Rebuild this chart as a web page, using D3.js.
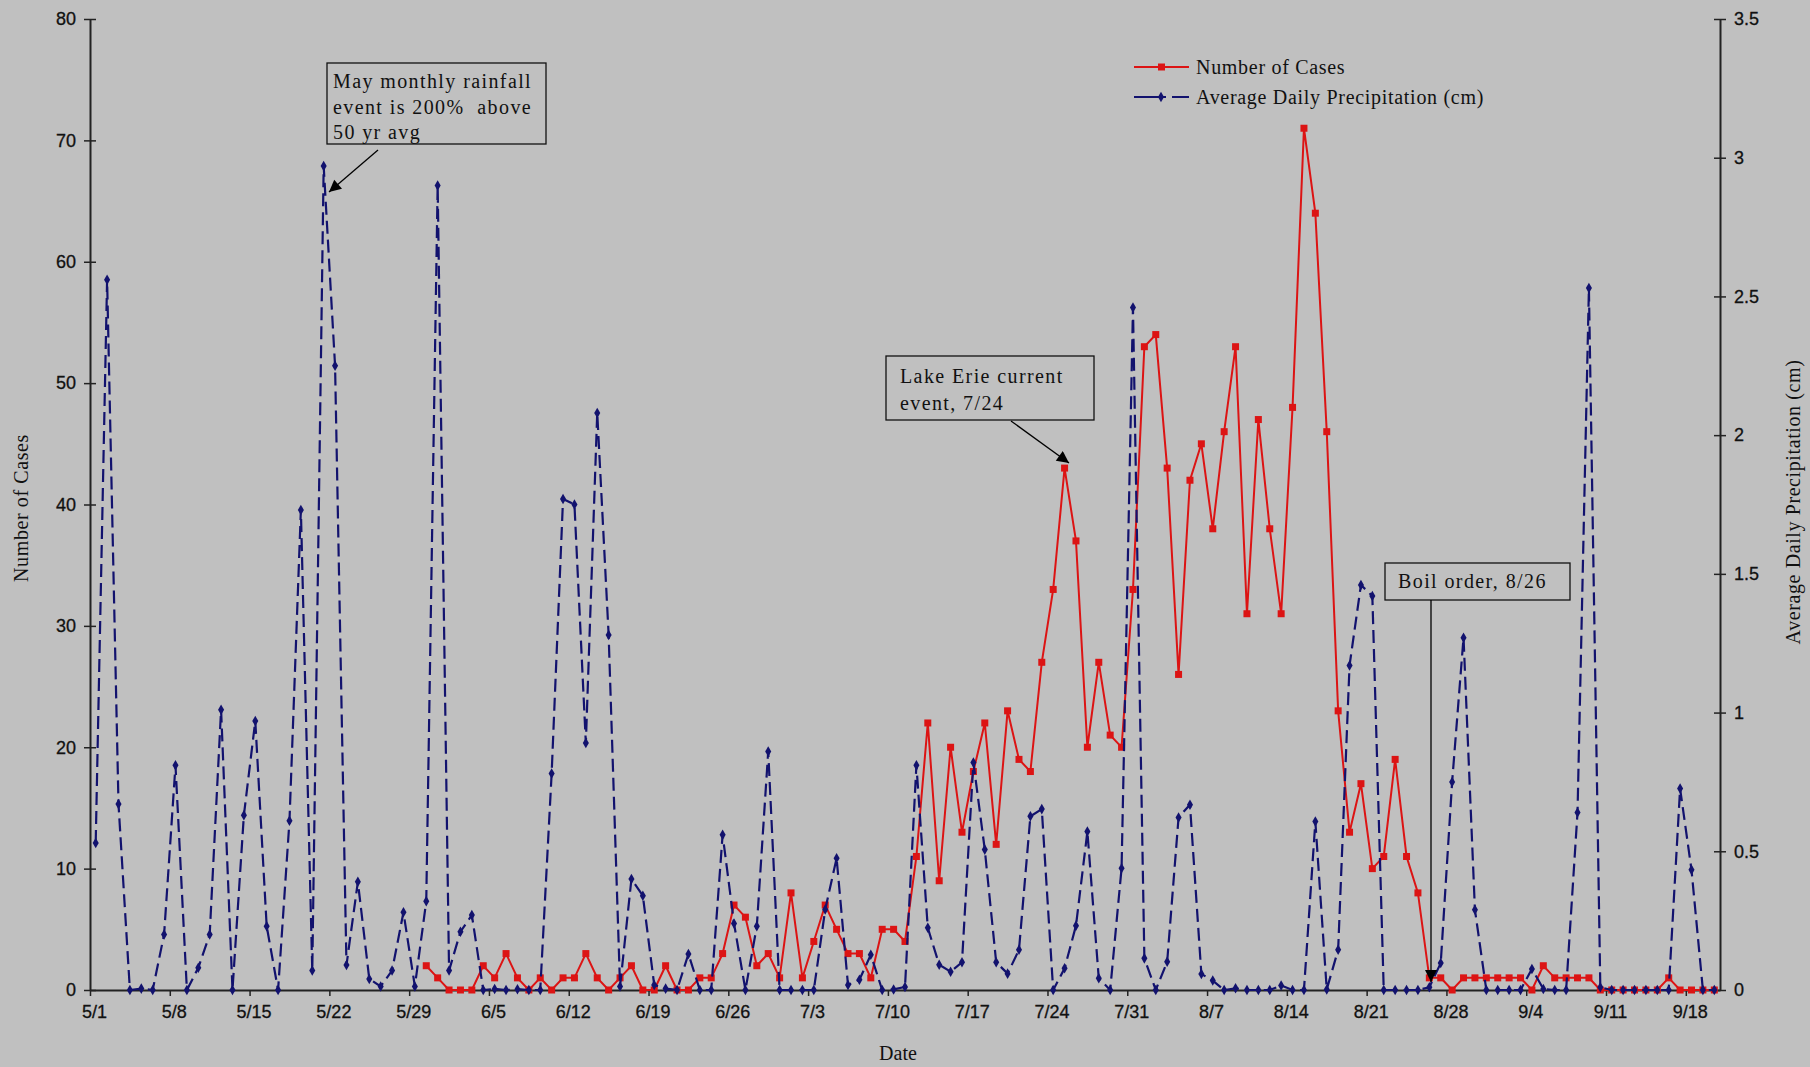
<!DOCTYPE html>
<html>
<head>
<meta charset="utf-8">
<script src="https://cdn.jsdelivr.net/npm/d3@7"></script>
<style>
  html, body { margin: 0; padding: 0; background: #c0c0c0; }
  svg { display: block; }
  .tick text { font-family: "Liberation Sans", Arial, sans-serif; font-size: 18px; fill: #111; }
  .serif { font-family: "Liberation Serif", "Times New Roman", serif; fill: #111; }
</style>
</head>
<body>
<svg id="chart" width="1810" height="1067"></svg>
<script>
// Daily series, 5/1 through 9/20 (143 days)
const startDate = new Date(2004, 4, 1);
const dayCount = 143;

// Number of cases per day (no reports before 5/30)
const cases = [
  null, null, null, null, null, null, null, null, null, null,
  null, null, null, null, null, null, null, null, null, null,
  null, null, null, null, null, null, null, null, null, 2,
  1, 0, 0, 0, 2, 1, 3, 1, 0, 1,
  0, 1, 1, 3, 1, 0, 1, 2, 0, 0,
  2, 0, 0, 1, 1, 3, 7, 6, 2, 3,
  1, 8, 1, 4, 7, 5, 3, 3, 1, 5,
  5, 4, 11, 22, 9, 20, 13, 18, 22, 12,
  23, 19, 18, 27, 33, 43, 37, 20, 27, 21,
  20, 33, 53, 54, 43, 26, 42, 45, 38, 46,
  53, 31, 47, 38, 31, 48, 71, 64, 46, 23,
  13, 17, 10, 11, 19, 11, 8, 1, 1, 0,
  1, 1, 1, 1, 1, 1, 0, 2, 1, 1,
  1, 1, 0, 0, 0, 0, 0, 0, 1, 0,
  0, 0, 0
];

// Average daily precipitation (cm)
const precip = [
  0.53, 2.56, 0.67, 0, 0.005, 0, 0.20, 0.81, 0, 0.08,
  0.20, 1.01, 0, 0.63, 0.97, 0.23, 0, 0.61, 1.73, 0.07,
  2.97, 2.25, 0.09, 0.39, 0.04, 0.013, 0.07, 0.28, 0.013, 0.32,
  2.90, 0.07, 0.21, 0.27, 0, 0.004, 0, 0.003, 0, 0,
  0.78, 1.77, 1.75, 0.89, 2.08, 1.28, 0.013, 0.40, 0.34, 0.018,
  0.005, 0, 0.13, 0, 0, 0.56, 0.24, 0, 0.23, 0.86,
  0, 0, 0, 0, 0.29, 0.475, 0.018, 0.037, 0.127, 0,
  0.002, 0.011, 0.81, 0.224, 0.091, 0.066, 0.10, 0.82, 0.506, 0.10,
  0.059, 0.145, 0.626, 0.652, 0, 0.078, 0.232, 0.571, 0.042, 0,
  0.439, 2.46, 0.114, 0, 0.102, 0.622, 0.668, 0.058, 0.034, 0,
  0.006, 0, 0, 0, 0.016, 0, 0, 0.607, 0.002, 0.145,
  1.17, 1.46, 1.42, 0, 0, 0, 0, 0.01, 0.097, 0.75,
  1.27, 0.289, 0, 0, 0, 0, 0.076, 0.004, 0, 0,
  0.64, 2.53, 0.01, 0, 0, 0, 0, 0, 0, 0.726,
  0.433, 0, 0
];

const dateTickLabels = ["5/1","5/8","5/15","5/22","5/29","6/5","6/12","6/19","6/26","7/3",
  "7/10","7/17","7/24","7/31","8/7","8/14","8/21","8/28","9/4","9/11","9/18"];
const casesTicks = [0, 10, 20, 30, 40, 50, 60, 70, 80];
const precipTicks = [0, 0.5, 1, 1.5, 2, 2.5, 3, 3.5];

const seriesNames = ["Number of Cases", "Average Daily Precipitation (cm)"];

(function draw() {
  const days = d3.range(dayCount).map(i => d3.timeDay.offset(startDate, i));

  const red = "#dc1414";
  const navy = "#12126e";

  const svg = d3.select("#chart");
  const plotL = 90, plotR = 1720, plotT = 19, plotB = 990;

  // day index -> x; each day occupies one slot, marks sit at slot centres
  const x = d3.scaleLinear().domain([0, days.length]).range([plotL, plotR]);
  const yCases = d3.scaleLinear().domain([0, 80]).range([plotB, plotT]);
  const yPrecip = d3.scaleLinear().domain([0, 3.5]).range([plotB, plotT]);

  // Axes
  const leftAxis = d3.axisLeft(yCases).tickValues(casesTicks).tickSizeInner(6).tickSizeOuter(0).tickPadding(8);
  const gL = svg.append("g").attr("transform", `translate(${plotL},0)`).call(leftAxis);
  gL.selectAll(".tick line").attr("x2", 6).attr("x1", -6);

  const rightAxis = d3.axisRight(yPrecip).tickValues(precipTicks).tickFormat(d3.format("~g"))
    .tickSizeInner(6).tickSizeOuter(0).tickPadding(8);
  const gR = svg.append("g").attr("transform", `translate(${plotR},0)`).call(rightAxis);
  gR.selectAll(".tick line").attr("x1", -6).attr("x2", 6);

  const tickIdx = dateTickLabels.map((_, k) => k * 7);
  const bottomAxis = d3.axisBottom(x).tickValues(tickIdx)
    .tickFormat((d, k) => dateTickLabels[k]).tickSizeInner(6).tickSizeOuter(0).tickPadding(9);
  const gB = svg.append("g").attr("transform", `translate(0,${plotB})`).call(bottomAxis);
  gB.selectAll(".tick text").attr("dx", 4);

  svg.selectAll(".domain").attr("stroke", "#222").attr("stroke-width", 2);
  svg.selectAll(".tick line").attr("stroke", "#222").attr("stroke-width", 1.5);
  svg.selectAll(".tick text").attr("stroke", "#111").attr("stroke-width", 0.3);

  // Axis titles
  svg.append("text").attr("class", "serif")
    .attr("transform", `translate(28,508) rotate(-90)`)
    .attr("text-anchor", "middle").attr("font-size", 20).attr("letter-spacing", 0.6)
    .text("Number of Cases");
  svg.append("text").attr("class", "serif")
    .attr("transform", `translate(1800,502) rotate(-90)`)
    .attr("text-anchor", "middle").attr("font-size", 20).attr("letter-spacing", 0.6)
    .text("Average Daily Precipitation (cm)");
  svg.append("text").attr("class", "serif")
    .attr("x", 898).attr("y", 1060).attr("text-anchor", "middle").attr("font-size", 20)
    .text("Date");

  const cx = i => x(i + 0.5);

  // Cases series
  const casesPts = cases.map((v, i) => ({ i, v })).filter(d => d.v !== null);
  svg.append("path")
    .attr("d", d3.line().x(d => cx(d.i)).y(d => yCases(d.v))(casesPts))
    .attr("fill", "none").attr("stroke", red).attr("stroke-width", 2);
  svg.append("g").selectAll("rect").data(casesPts).join("rect")
    .attr("x", d => cx(d.i) - 3.5).attr("y", d => yCases(d.v) - 3.5)
    .attr("width", 7).attr("height", 7).attr("fill", red);

  // Precipitation series
  const precipPts = precip.map((v, i) => ({ i, v }));
  svg.append("path")
    .attr("d", d3.line().x(d => cx(d.i)).y(d => yPrecip(d.v))(precipPts))
    .attr("fill", "none").attr("stroke", navy).attr("stroke-width", 2.2)
    .attr("stroke-dasharray", "13,6");
  const diamond = d3.symbol().type(d3.symbolDiamond).size(32);
  svg.append("g").selectAll("path").data(precipPts).join("path")
    .attr("transform", d => `translate(${cx(d.i)},${yPrecip(d.v)})`)
    .attr("d", diamond).attr("fill", navy);

  // Legend
  const lg = svg.append("g");
  lg.append("line").attr("x1", 1134).attr("x2", 1189).attr("y1", 67).attr("y2", 67)
    .attr("stroke", red).attr("stroke-width", 2);
  lg.append("rect").attr("x", 1158).attr("y", 63.5).attr("width", 7).attr("height", 7).attr("fill", red);
  lg.append("line").attr("x1", 1134).attr("x2", 1189).attr("y1", 97).attr("y2", 97)
    .attr("stroke", navy).attr("stroke-width", 2).attr("stroke-dasharray", "32,6,40");
  lg.append("path").attr("transform", "translate(1161,97)").attr("d", diamond).attr("fill", navy);
  lg.selectAll("text.lgt").data(seriesNames).join("text").attr("class", "serif lgt")
    .attr("x", 1196).attr("y", (d, k) => 74 + k * 30)
    .attr("font-size", 20).attr("letter-spacing", 0.7).text(d => d);

  // Annotations
  const defs = svg.append("defs");
  defs.append("marker").attr("id", "head").attr("viewBox", "0 0 10 10")
    .attr("refX", 10).attr("refY", 5).attr("markerWidth", 14).attr("markerHeight", 12)
    .attr("markerUnits", "userSpaceOnUse").attr("orient", "auto")
    .append("path").attr("d", "M0,0 L10,5 L0,10 Z").attr("fill", "#000");

  function noteBox(x0, y0, w, h, lines, tx, ty, lh) {
    const g = svg.append("g");
    g.append("rect").attr("x", x0).attr("y", y0).attr("width", w).attr("height", h)
      .attr("fill", "#c0c0c0").attr("stroke", "#111").attr("stroke-width", 1.3);
    lines.forEach((t, k) => g.append("text").attr("class", "serif")
      .attr("x", tx).attr("y", ty + k * lh).attr("font-size", 20).attr("letter-spacing", 1.4)
      .attr("xml:space", "preserve").text(t));
  }
  function arrow(x1, y1, x2, y2) {
    svg.append("line").attr("x1", x1).attr("y1", y1).attr("x2", x2).attr("y2", y2)
      .attr("stroke", "#000").attr("stroke-width", 1.3).attr("marker-end", "url(#head)");
  }

  noteBox(327, 63, 219, 81, ["May monthly rainfall", "event is 200%  above", "50 yr avg"], 333, 88, 25.5);
  arrow(378, 150, 329, 192);

  noteBox(886, 356, 208, 64, ["Lake Erie current", "event, 7/24"], 900, 383, 27);
  arrow(1011, 421, 1069, 463);

  noteBox(1385, 563, 185, 37, ["Boil order, 8/26"], 1398, 588, 0);
  arrow(1431, 600, 1431, 982);
})();
</script>
</body>
</html>
